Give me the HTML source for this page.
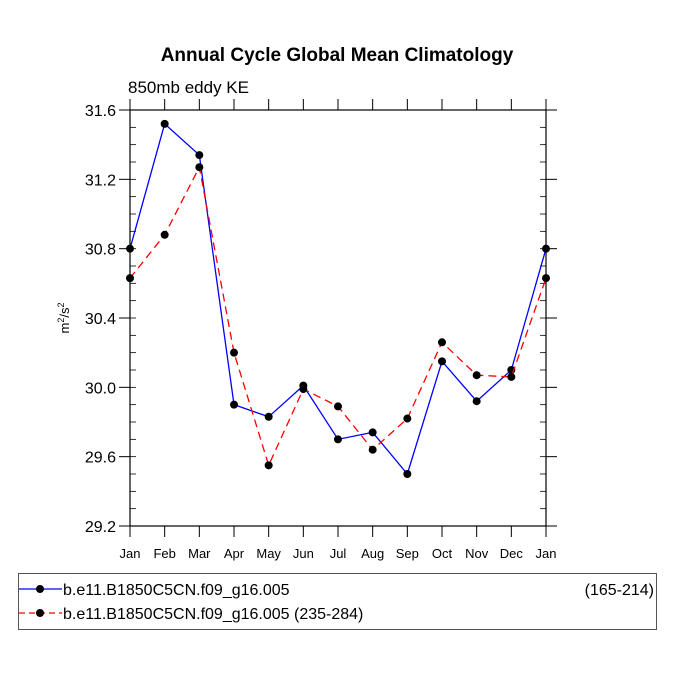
<!DOCTYPE html>
<html><head><meta charset="utf-8"><style>
body{margin:0;background:#fff;}
svg text{font-family:"Liberation Sans",Arial,sans-serif;}
</style></head><body>
<svg id="chart" width="675" height="676" viewBox="0 0 675 676">
<text x="337" y="61" text-anchor="middle" font-size="19" font-weight="bold">Annual Cycle Global Mean Climatology</text>
<text x="128" y="93" font-size="17">850mb eddy KE</text>
<text transform="translate(69,318) rotate(-90)" text-anchor="middle" font-size="13">m<tspan dy="-5" font-size="9">2</tspan><tspan dy="5">/s</tspan><tspan dy="-5" font-size="9">2</tspan></text>
<g id="axes"></g>
<g id="series"></g>
<g>
<rect x="18.5" y="573.5" width="638" height="56" fill="none" stroke="#555" stroke-width="1"/>
<g>
<line x1="19" y1="589" x2="62" y2="589" stroke="#0000ff" stroke-width="1.2"/>
<circle cx="40" cy="589" r="4" fill="#000"/>
<text x="63" y="595" font-size="16">b.e11.B1850C5CN.f09_g16.005</text>
<text x="654" y="595" font-size="16" text-anchor="end">(165-214)</text>
</g>
<g>
<line x1="19" y1="613" x2="62" y2="613" stroke="#ff0000" stroke-width="1.2" stroke-dasharray="6,4"/>
<circle cx="40" cy="613" r="4" fill="#000"/>
<text x="63" y="619" font-size="16">b.e11.B1850C5CN.f09_g16.005 (235-284)</text>
</g>
</g>
</svg>
<script>
const months = ["Jan","Feb","Mar","Apr","May","Jun","Jul","Aug","Sep","Oct","Nov","Dec","Jan"];
const seriesA = [30.80,31.52,31.34,29.90,29.83,30.01,29.70,29.74,29.50,30.15,29.92,30.10,30.80];
const seriesB = [30.63,30.88,31.27,30.20,29.55,29.99,29.89,29.64,29.82,30.26,30.07,30.06,30.63];
const yTicks = ["29.2","29.6","30.0","30.4","30.8","31.2","31.6"];

const NS="http://www.w3.org/2000/svg";
const L=130,R=546,T=110,B=526,yMin=29.2,yMax=31.6;
const xS=i=>L+(R-L)*i/(months.length-1);
const yS=v=>B-(v-yMin)/(yMax-yMin)*(B-T);
function mk(tag,attrs,parent){const e=document.createElementNS(NS,tag);for(const k in attrs)e.setAttribute(k,attrs[k]);parent.appendChild(e);return e;}
const ax=document.getElementById('axes');
const frame=mk('rect',{x:L,y:T,width:R-L,height:B-T,fill:'none',stroke:'#000','stroke-width':1.2},ax);


months.forEach((m,i)=>{
  const x=xS(i);
  mk('line',{x1:x,y1:B,x2:x,y2:B+11,stroke:'#000','stroke-width':1},ax);
  mk('line',{x1:x,y1:T,x2:x,y2:T-11,stroke:'#000','stroke-width':1},ax);
  const t=mk('text',{x:x,y:558,'text-anchor':'middle','font-size':13},ax);
  t.textContent=m;
  
  
});
yTicks.forEach((s,i)=>{
  const y=yS(parseFloat(s));
  mk('line',{x1:L-11,y1:y,x2:L,y2:y,stroke:'#000','stroke-width':1},ax);
  mk('line',{x1:R,y1:y,x2:R+11,y2:y,stroke:'#000','stroke-width':1},ax);
  const t=mk('text',{x:116,y:y+6,'text-anchor':'end','font-size':16},ax);
  t.textContent=s;
  
  
});
for(let v=yMin;v<=yMax+1e-9;v+=0.1){
  const y=yS(v);
  mk('line',{x1:L,y1:y,x2:L+6,y2:y,stroke:'#000','stroke-width':0.8},ax);
  mk('line',{x1:R-6,y1:y,x2:R,y2:y,stroke:'#000','stroke-width':0.8},ax);
}
const sg=document.getElementById('series');
function draw(vals,color,dash,name){
  const g=mk('g',{},sg);
  
  
  const pts=vals.map((v,i)=>xS(i)+','+yS(v)).join(' ');
  const p=mk('polyline',{points:pts,fill:'none',stroke:color,'stroke-width':1.3},g);
  if(dash)p.setAttribute('stroke-dasharray',dash);
  vals.forEach((v,i)=>{
    const c=mk('circle',{cx:xS(i),cy:yS(v),r:4,fill:'#000'},g);
    
    
  });
}
draw(seriesA,'#0000ff',null,'series-165-214');
draw(seriesB,'#ff0000','8,5','series-235-284');
</script>
</body></html>
